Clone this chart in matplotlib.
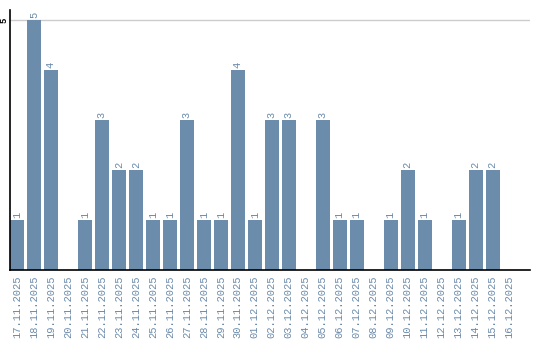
import matplotlib
matplotlib.use("Agg")
import matplotlib.pyplot as plt

dates = ["17.11.2025", "18.11.2025", "19.11.2025", "20.11.2025", "21.11.2025",
         "22.11.2025", "23.11.2025", "24.11.2025", "25.11.2025", "26.11.2025",
         "27.11.2025", "28.11.2025", "29.11.2025", "30.11.2025", "01.12.2025",
         "02.12.2025", "03.12.2025", "04.12.2025", "05.12.2025", "06.12.2025",
         "07.12.2025", "08.12.2025", "09.12.2025", "10.12.2025", "11.12.2025",
         "12.12.2025", "13.12.2025", "14.12.2025", "15.12.2025", "16.12.2025"]
counts = [1, 5, 4, 0, 1, 3, 2, 2, 1, 1,
          3, 1, 1, 4, 1, 3, 3, 0, 3, 1,
          1, 0, 1, 2, 1, 0, 1, 2, 2, 0]

bar_color = "#6b8cab"
text_color = "#6a8aaa"
mono = "Liberation Mono"

fig = plt.figure(figsize=(5.4, 3.4), dpi=100)
ax = fig.add_axes([0.0185, 0.206, 0.963, 0.765])

x = list(range(len(dates)))
ax.bar(x, counts, width=0.82, color=bar_color, zorder=2)

for i, v in enumerate(counts):
    if v > 0:
        ax.text(i, v + 0.04, str(v), rotation=90, ha="center", va="bottom",
                fontsize=7.5, family=mono, color=text_color)

ax.set_xlim(-0.41, 30.2)
ax.set_ylim(0, 5.2)
ax.set_xticks(x)
ax.set_xticklabels(dates, rotation=90, fontsize=7.5, family=mono,
                   color=text_color)
ax.set_yticks([5])
ax.set_yticklabels(["5"], rotation=90, fontsize=6.5, family=mono,
                   va="center", fontweight="bold")
ax.tick_params(axis="x", length=0, pad=4)
ax.tick_params(axis="y", length=0, pad=1)
ax.grid(axis="y", color="#cccccc", linewidth=1, zorder=0)

ax.spines[["top", "right"]].set_visible(False)
ax.spines["left"].set_linewidth(1.2)
ax.spines["bottom"].set_linewidth(1.2)

fig.savefig("out.png", dpi=100)
